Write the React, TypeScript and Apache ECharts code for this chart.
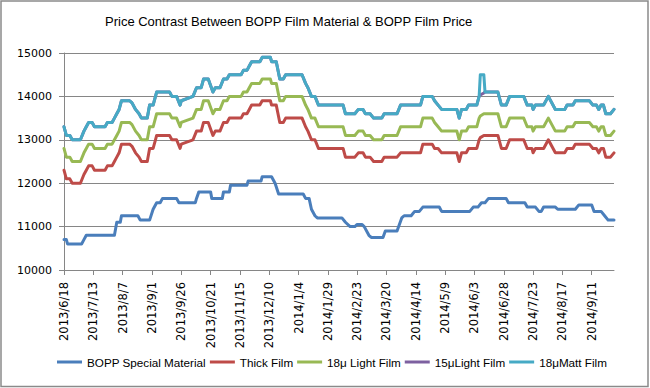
import React, { useEffect, useRef } from "react";
import * as echarts from "echarts";

const seriesNames = ["BOPP Special Material", "Thick Film", "18μ Light Film", "15μLight Film", "18μMatt Film"];
const seriesColors = ["#4A7EBB", "#BE4B48", "#98B954", "#7D60A0", "#46AAC5"];

const xTickLabels = [
  "2013/6/18", "2013/7/13", "2013/8/7", "2013/9/1", "2013/9/26", "2013/10/21", "2013/11/15", "2013/12/10",
  "2014/1/4", "2014/1/29", "2014/2/23", "2014/3/20", "2014/4/14", "2014/5/9", "2014/6/3", "2014/6/28",
  "2014/7/23", "2014/8/17", "2014/9/11",
];
const startDate = "2013/6/18";
const endDate = "2014/9/30";

// BOPP special material (own change dates)
const materialDates = [
  "2013/6/18", "2013/6/20", "2013/6/21", "2013/7/3", "2013/7/5", "2013/7/7", "2013/7/31", "2013/8/2", "2013/8/5", "2013/8/6",
  "2013/8/20", "2013/8/22", "2013/8/30", "2013/9/2", "2013/9/5", "2013/9/8", "2013/9/10", "2013/9/22", "2013/9/24", "2013/10/8",
  "2013/10/9", "2013/10/11", "2013/10/21", "2013/10/22", "2013/10/31", "2013/11/1", "2013/11/6", "2013/11/7", "2013/11/21", "2013/11/22",
  "2013/12/3", "2013/12/4", "2013/12/12", "2013/12/15", "2013/12/18", "2014/1/8", "2014/1/10", "2014/1/13", "2014/1/15", "2014/1/18",
  "2014/1/20", "2014/2/10", "2014/2/13", "2014/2/17", "2014/2/21", "2014/2/23", "2014/2/27", "2014/3/1", "2014/3/5", "2014/3/7",
  "2014/3/17", "2014/3/19", "2014/3/29", "2014/4/2", "2014/4/4", "2014/4/10", "2014/4/13", "2014/4/17", "2014/4/20", "2014/5/4",
  "2014/5/6", "2014/5/30", "2014/6/2", "2014/6/6", "2014/6/9", "2014/6/12", "2014/6/15", "2014/6/30", "2014/7/2", "2014/7/16",
  "2014/7/18", "2014/7/25", "2014/7/28", "2014/7/30", "2014/8/1", "2014/8/11", "2014/8/13", "2014/8/28", "2014/8/31", "2014/9/11",
  "2014/9/13", "2014/9/19", "2014/9/22", "2014/9/25", "2014/9/30",
];
const materialValues = [
  10700, 10700, 10600, 10600, 10700, 10800, 10800, 11100, 11100, 11250,
  11250, 11150, 11150, 11400, 11550, 11550, 11650, 11650, 11550, 11550,
  11650, 11800, 11800, 11650, 11650, 11800, 11800, 11950, 11950, 12050,
  12050, 12150, 12150, 12000, 11750, 11750, 11650, 11650, 11400, 11250,
  11200, 11200, 11100, 11000, 11000, 11050, 11050, 11000, 10800, 10750,
  10750, 10900, 10900, 11200, 11250, 11250, 11350, 11350, 11450, 11450,
  11350, 11350, 11450, 11450, 11550, 11550, 11650, 11650, 11550, 11550,
  11450, 11450, 11350, 11350, 11450, 11450, 11400, 11400, 11500, 11500,
  11350, 11350, 11250, 11150, 11150,
];

// Film prices (shared change dates)
const filmDates = [
  "2013/6/18", "2013/6/20", "2013/6/23", "2013/6/25", "2013/7/2", "2013/7/5", "2013/7/7", "2013/7/9", "2013/7/12", "2013/7/14",
  "2013/7/23", "2013/7/25", "2013/7/29", "2013/7/31", "2013/8/2", "2013/8/4", "2013/8/6", "2013/8/13", "2013/8/15", "2013/8/18",
  "2013/8/21", "2013/8/23", "2013/8/28", "2013/8/30", "2013/9/2", "2013/9/4", "2013/9/5", "2013/9/16", "2013/9/18", "2013/9/22",
  "2013/9/25", "2013/9/26", "2013/10/6", "2013/10/9", "2013/10/13", "2013/10/15", "2013/10/19", "2013/10/23", "2013/10/25", "2013/10/29",
  "2013/11/1", "2013/11/4", "2013/11/6", "2013/11/16", "2013/11/18", "2013/11/21", "2013/11/23", "2013/11/25", "2013/12/2", "2013/12/4",
  "2013/12/11", "2013/12/12", "2013/12/16", "2013/12/19", "2013/12/22", "2013/12/24", "2014/1/7", "2014/1/10", "2014/1/12", "2014/1/15",
  "2014/1/18", "2014/1/21", "2014/2/11", "2014/2/13", "2014/2/21", "2014/2/24", "2014/2/28", "2014/3/2", "2014/3/6", "2014/3/9",
  "2014/3/16", "2014/3/18", "2014/3/29", "2014/4/1", "2014/4/18", "2014/4/20", "2014/4/28", "2014/4/30", "2014/5/3", "2014/5/6",
  "2014/5/19", "2014/5/21", "2014/5/23", "2014/5/27", "2014/5/29", "2014/6/5", "2014/6/7", "2014/6/8", "2014/6/11", "2014/6/12",
  "2014/6/23", "2014/6/26", "2014/6/30", "2014/7/3", "2014/7/15", "2014/7/18", "2014/7/22", "2014/7/23", "2014/7/25", "2014/8/1",
  "2014/8/5", "2014/8/11", "2014/8/19", "2014/8/21", "2014/8/26", "2014/8/28", "2014/9/9", "2014/9/12", "2014/9/15", "2014/9/17",
  "2014/9/19", "2014/9/21", "2014/9/23", "2014/9/27", "2014/9/30",
];
const thickValues = [
  12300, 12100, 12100, 12000, 12000, 12200, 12300, 12400, 12400, 12300,
  12300, 12400, 12400, 12500, 12600, 12700, 12900, 12900, 12850, 12700,
  12600, 12500, 12500, 12800, 12800, 13000, 13100, 13100, 13000, 13000,
  12800, 12900, 13000, 13200, 13200, 13400, 13400, 13100, 13200, 13200,
  13400, 13400, 13500, 13500, 13600, 13600, 13700, 13800, 13800, 13900,
  13900, 13800, 13800, 13400, 13400, 13500, 13500, 13300, 13200, 13000,
  13000, 12800, 12800, 12600, 12600, 12700, 12700, 12600, 12600, 12500,
  12500, 12600, 12600, 12700, 12700, 12900, 12900, 12800, 12800, 12700,
  12700, 12500, 12700, 12700, 12800, 12800, 13000, 13050, 13100, 13100,
  13100, 12800, 12800, 13000, 13000, 12800, 12800, 12700, 12800, 12800,
  13000, 12700, 12700, 12800, 12800, 12900, 12900, 12800, 12800, 12700,
  12800, 12800, 12600, 12600, 12700,
];
const light18Values = [
  12800, 12600, 12600, 12500, 12500, 12700, 12800, 12900, 12900, 12800,
  12800, 12900, 12900, 13000, 13100, 13200, 13400, 13400, 13350, 13200,
  13100, 13000, 13000, 13300, 13300, 13500, 13600, 13600, 13500, 13500,
  13300, 13400, 13500, 13700, 13700, 13900, 13900, 13600, 13700, 13700,
  13900, 13900, 14000, 14000, 14100, 14100, 14200, 14300, 14300, 14400,
  14400, 14300, 14300, 13900, 13900, 14000, 14000, 13800, 13700, 13500,
  13500, 13300, 13300, 13100, 13100, 13200, 13200, 13100, 13100, 13000,
  13000, 13100, 13100, 13300, 13300, 13500, 13500, 13400, 13300, 13200,
  13200, 13000, 13200, 13200, 13300, 13300, 13500, 13550, 13600, 13600,
  13600, 13300, 13300, 13500, 13500, 13300, 13300, 13200, 13300, 13300,
  13500, 13200, 13200, 13300, 13300, 13400, 13400, 13300, 13300, 13200,
  13300, 13300, 13100, 13100, 13200,
];
const light15Values = [
  13300, 13100, 13100, 13000, 13000, 13200, 13300, 13400, 13400, 13300,
  13300, 13400, 13400, 13500, 13600, 13700, 13900, 13900, 13850, 13700,
  13600, 13500, 13500, 13800, 13800, 14000, 14100, 14100, 14000, 14000,
  13800, 13900, 14000, 14200, 14200, 14400, 14400, 14100, 14200, 14200,
  14400, 14400, 14500, 14500, 14600, 14600, 14700, 14800, 14800, 14900,
  14900, 14800, 14800, 14400, 14400, 14500, 14500, 14300, 14200, 14000,
  14000, 13800, 13800, 13600, 13600, 13700, 13700, 13600, 13600, 13500,
  13500, 13600, 13600, 13800, 13800, 14000, 14000, 13900, 13800, 13700,
  13700, 13500, 13700, 13700, 13800, 13800, 14000, 14030, 14080, 14100,
  14100, 13800, 13800, 14000, 14000, 13800, 13800, 13700, 13800, 13800,
  14000, 13700, 13700, 13800, 13800, 13900, 13900, 13800, 13800, 13700,
  13800, 13800, 13600, 13600, 13700,
];
const matt18Values = [
  13300, 13100, 13100, 13000, 13000, 13200, 13300, 13400, 13400, 13300,
  13300, 13400, 13400, 13500, 13600, 13700, 13900, 13900, 13850, 13700,
  13600, 13500, 13500, 13800, 13800, 14000, 14100, 14100, 14000, 14000,
  13800, 13900, 14000, 14200, 14200, 14400, 14400, 14100, 14200, 14200,
  14400, 14400, 14500, 14500, 14600, 14600, 14700, 14800, 14800, 14900,
  14900, 14800, 14800, 14400, 14400, 14500, 14500, 14300, 14200, 14000,
  14000, 13800, 13800, 13600, 13600, 13700, 13700, 13600, 13600, 13500,
  13500, 13600, 13600, 13800, 13800, 14000, 14000, 13900, 13800, 13700,
  13700, 13500, 13700, 13700, 13800, 13800, 14000, 14500, 14500, 14100,
  14100, 13800, 13800, 14000, 14000, 13800, 13800, 13700, 13800, 13800,
  14000, 13700, 13700, 13800, 13800, 13900, 13900, 13800, 13800, 13700,
  13800, 13800, 13600, 13600, 13700,
];

const DAY = 86400000;
function toUTC(s: string) {
  const [y, m, d] = s.split("/").map(Number);
  return Date.UTC(y, m - 1, d);
}
const baseMs = toUTC(startDate);
function toDay(s: string) {
  return Math.round((toUTC(s) - baseMs) / DAY);
}

export default function App() {
  const ref = useRef<HTMLDivElement>(null);
  useEffect(() => {
    if (!ref.current) return;
    const chart = echarts.init(ref.current, null, { renderer: "svg" });
    const tickDays = xTickLabels.map(toDay);
    const pair = (dates: string[], vals: number[]) => dates.map((d, i) => [toDay(d), vals[i]]);
    const seriesData = [
      pair(materialDates, materialValues),
      pair(filmDates, thickValues),
      pair(filmDates, light18Values),
      pair(filmDates, light15Values),
      pair(filmDates, matt18Values),
    ];
    const axisGrey = "#868686";
    chart.setOption({
      animation: false,
      backgroundColor: "#ffffff",
      title: {
        text: "Price Contrast Between BOPP Film Material & BOPP Film Price",
        left: 100,
        top: 10,
        textStyle: { fontFamily: "Liberation Sans", fontSize: 13, fontWeight: "normal", color: "#000" },
      },
      legend: {
        data: seriesNames.map((n) => ({ name: n, icon: "rect" })),
        left: 52,
        top: 351,
        itemWidth: 25,
        itemHeight: 3,
        itemGap: 4,
        textStyle: { fontFamily: "Liberation Sans", fontSize: 11.7, color: "#000" },
      },
      grid: { left: 64, top: 53, width: 550, height: 217 },
      xAxis: {
        type: "value",
        min: 0,
        max: toDay(endDate),
        interval: 25,
        axisLine: { lineStyle: { color: axisGrey } },
        axisTick: { show: true, length: 5, lineStyle: { color: axisGrey }, customValues: tickDays },
        axisLabel: {
          rotate: 90,
          margin: 12,
          customValues: tickDays,
          fontFamily: "DejaVu Sans",
          fontSize: 11.5,
          color: "#000",
          formatter: (v: number) => {
            const i = tickDays.indexOf(Math.round(v));
            return i >= 0 ? xTickLabels[i] : "";
          },
        },
        splitLine: { show: false },
      },
      yAxis: {
        type: "value",
        min: 10000,
        max: 15000,
        interval: 1000,
        axisLine: { show: true, lineStyle: { color: axisGrey } },
        axisTick: { show: true, length: 5, lineStyle: { color: axisGrey } },
        axisLabel: {
          margin: 12,
          fontFamily: "DejaVu Sans",
          fontSize: 11,
          color: "#000",
          formatter: (v: number) => String(v),
        },
        splitLine: { show: true, lineStyle: { color: axisGrey, width: 1 } },
      },
      graphic: [
        {
          type: "rect",
          shape: { x: 1, y: 1, width: 647, height: 385.5 },
          style: { fill: "none", stroke: "#8a8a8a", lineWidth: 1.5 },
          silent: true,
        },
      ],
      series: seriesNames.map((name, i) => ({
        name,
        type: "line",
        data: seriesData[i],
        symbol: "none",
        showSymbol: false,
        color: seriesColors[i],
        lineStyle: { width: 3, color: seriesColors[i], cap: "round", join: "round" },
        z: 2 + i,
      })),
    });
    return () => chart.dispose();
  }, []);
  return (
    <div
      ref={ref}
      style={{ position: "fixed", left: 0, top: 0, width: 650, height: 388, background: "#fff" }}
    />
  );
}
